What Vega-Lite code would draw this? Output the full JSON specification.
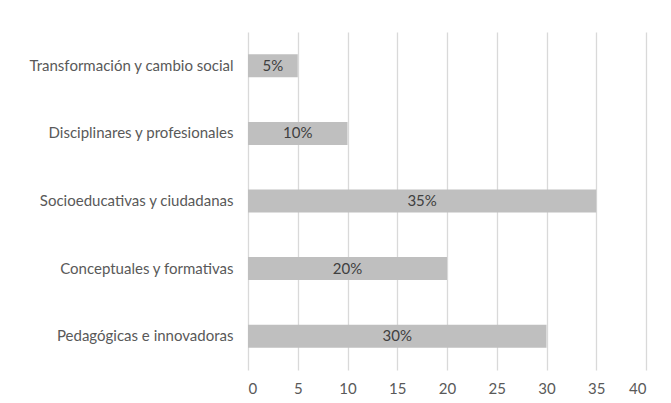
{
  "$schema": "https://vega.github.io/schema/vega-lite/v6.json",
  "width": 398,
  "height": 338,
  "autosize": {"type": "none"},
  "padding": {"left": 248, "top": 32, "right": 25, "bottom": 33},
  "background": "white",
  "config": {"view": {"stroke": null}, "font": "Lato"},
  "data": {"values": [
    {"categoria": "Transformación y cambio social", "valor": 5, "etiqueta": "5%"},
    {"categoria": "Disciplinares y profesionales", "valor": 10, "etiqueta": "10%"},
    {"categoria": "Socioeducativas y ciudadanas", "valor": 35, "etiqueta": "35%"},
    {"categoria": "Conceptuales y formativas", "valor": 20, "etiqueta": "20%"},
    {"categoria": "Pedagógicas e innovadoras", "valor": 30, "etiqueta": "30%"}
  ]},
  "encoding": {
    "y": {"field": "categoria", "type": "nominal", "sort": null,
      "scale": {"paddingInner": 0.66, "paddingOuter": 0.33},
      "axis": {"title": null, "domain": false, "ticks": false, "labelPadding": 15, "labelLimit": 300, "labelFontSize": 15, "labelColor": "#595959", "labelFont": "Lato"}}
  },
  "layer": [
    {"mark": {"type": "bar", "color": "#BFBFBF"},
     "encoding": {
       "x": {"field": "valor", "type": "quantitative",
         "scale": {"domain": [0, 40], "nice": false},
         "axis": {"title": null, "values": [0,5,10,15,20,25,30,35,40], "domain": false, "ticks": false, "labelPadding": 11, "labelFontSize": 15, "labelFont": "Lato", "labelColor": "#595959", "gridColor": "#D9D9D9", "gridWidth": 1.3}}
     }},
    {"mark": {"type": "text", "color": "#404040", "fontSize": 15, "font": "Lato", "align": "center"},
     "encoding": {
       "x": {"field": "valor", "type": "quantitative", "scale": {"domain": [0, 80], "nice": false}, "axis": null},
       "text": {"field": "etiqueta", "type": "nominal"}
     }}
  ],
  "resolve": {"scale": {"x": "independent"}}
}
